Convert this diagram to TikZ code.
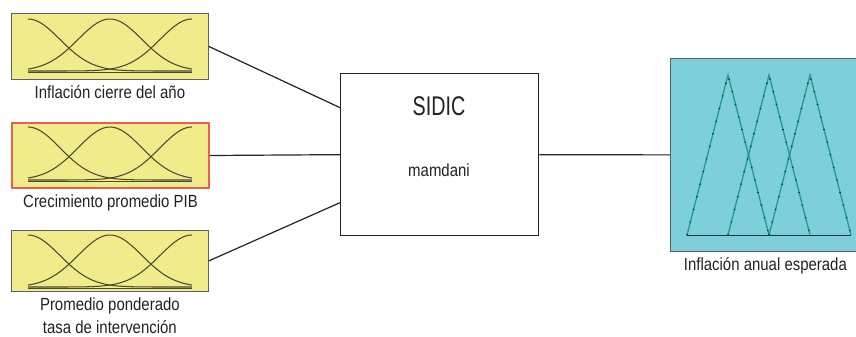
\documentclass[tikz,border=0pt]{standalone}
\usepackage{fontspec}
\setmainfont{Liberation Sans}[FakeStretch=0.85]
\newfontfamily\narrowfont{Liberation Sans}[FakeStretch=0.73]
\usepackage{tikz}
\usetikzlibrary{positioning}

\definecolor{mfyellow}{HTML}{F0EC8C}
\definecolor{mfcyan}{HTML}{7ECFDC}
\definecolor{mfred}{HTML}{E8604C}
\definecolor{mfteal}{HTML}{229A90}
\definecolor{mfink}{HTML}{222222}
\definecolor{mfcurve}{HTML}{4A4A30}

\tikzset{
    inbox/.style={draw=gray!75!black, line width=0.8pt, fill=mfyellow, anchor=north west, inner sep=0pt, minimum width=197pt},
    outbox/.style={draw=gray!75!black, line width=0.8pt, fill=mfcyan, anchor=north west, inner sep=0pt},
    fisbox/.style={draw=mfink, line width=1.3pt, fill=white, anchor=north west, inner sep=0pt},
    lbl/.style={inner sep=0pt, text=mfink, font=\fontsize{17.6}{23}\selectfont, align=center},
    wire/.style={draw=mfink, line width=1.2pt},
    mf/.style={draw=mfcurve, line width=1.05pt},
    tri/.style={draw=mfteal, line width=1.3pt},
    tridots/.style={draw=mfteal!35!black, line width=1.6pt, dash pattern=on 1pt off 12pt}
}

% three gaussian sets: #1 peak y, #2 tail y
\newcommand{\gausset}[2]{%
    \foreach \m in {0,0.5,1}
        \draw[mf] plot[domain=0:1, samples=60, smooth] ({28+164*\x}, {#2-(#2-#1)*exp(-0.5*((\x-\m)/0.195)*((\x-\m)/0.195))});
    \draw[mf] (28,#2+1.5) -- (192,#2+1.5);
}

\begin{document}
\begin{tikzpicture}[x=1pt, y=-1pt]
        \useasboundingbox (0,0) rectangle (856,337);

        % inputs
        \node[inbox, minimum height=66pt] (in1) at (11,13) {};
        \node[inbox, minimum height=65pt, draw=mfred, line width=2pt] (in2) at (11,122) {};
        \node[inbox, minimum height=61pt] (in3) at (11,230) {};

        \gausset{19}{71}
        \draw[mf, line width=1.6pt] (90,72.5) -- (103,72.5) (117,72.5) -- (130,72.5);
        \gausset{127}{180}
        \gausset{235}{287}

        \node[lbl, below=6pt of in1] (l1) {Inflación cierre del año};
        \node[lbl, below=6pt of in2] (l2) {Crecimiento promedio PIB};
        \node[lbl, below=6pt of in3] (l3) {Promedio ponderado\\tasa de intervención};

        % system
        \node[fisbox, minimum width=198pt, minimum height=162pt] (sidic) at (340,73) {};
        \node[lbl, font=\narrowfont\fontsize{27}{30}\selectfont] (title) at (439,106) {SIDIC};
        \node[lbl] (kind) at (439,170) {mamdani};

        % output
        \node[outbox, minimum width=192pt, minimum height=193pt] (out) at (670,58) {};
        \foreach \k in {0,1,2} {
            \draw[tri] ({687+41*\k},235) -- ({728+41*\k},75) -- ({769+41*\k},235);
            \draw[tridots] ({687+41*\k},235) -- ({728+41*\k},75) -- ({769+41*\k},235);
        }
        \draw[draw=mfteal!35!black, line width=1pt] (687,235) -- (851,235);
        \node[lbl, below=6pt of out, xshift=-1pt] (l4) {Inflación anual esperada};

        % wires
        \draw[wire] (in1.east) -- ([yshift=47pt]sidic.west);
        \draw[wire] (in2.east) -- (sidic.west);
        \draw[wire] (in3.east) -- ([yshift=-48pt]sidic.west);
        \draw[wire] (sidic.east) -- (out.west);
\end{tikzpicture}
\end{document}
